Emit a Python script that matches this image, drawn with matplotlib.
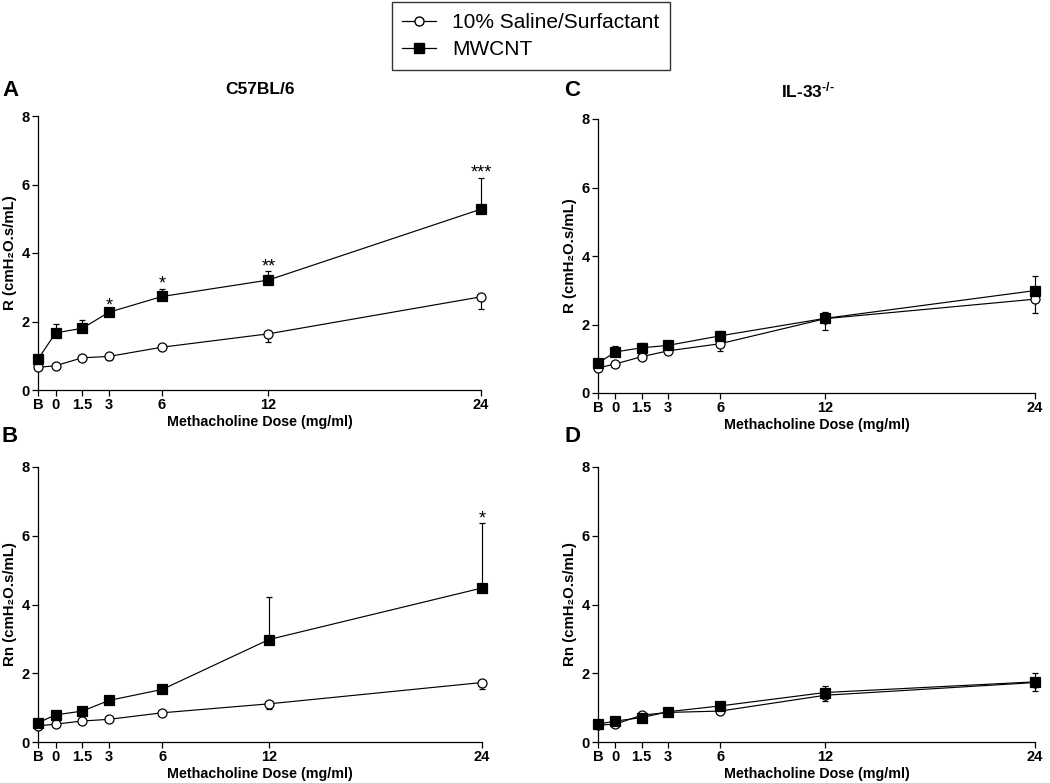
import numpy as np
import matplotlib
matplotlib.use("Agg")
import matplotlib.pyplot as plt
from matplotlib.lines import Line2D

plt.rcParams['font.family'] = ['Liberation Sans', 'DejaVu Sans']
plt.rcParams['mathtext.fontset'] = 'custom'
plt.rcParams['mathtext.bf'] = 'Liberation Sans:bold'
plt.rcParams['mathtext.rm'] = 'Liberation Sans:bold'
plt.rcParams['mathtext.default'] = 'bf'

# dose positions (B = baseline, drawn at -1)
doses = [-1, 0, 1.5, 3, 6, 12, 24]
dose_labels = ["B", "0", "1.5", "3", "6", "12", "24"]

# panel A: C57BL/6, R
a_saline = [0.66, 0.71, 0.94, 0.98, 1.25, 1.64, 2.72]
a_saline_err = [0.0, 0.0, 0.0, 0.10, 0.0, 0.24, 0.36]
a_mwcnt = [0.90, 1.67, 1.80, 2.27, 2.73, 3.21, 5.28]
a_mwcnt_err = [0.0, 0.26, 0.25, 0.05, 0.23, 0.25, 0.92]
a_stars = ["", "", "", "*", "*", "**", "***"]

# panel B: C57BL/6, Rn
b_saline = [0.47, 0.52, 0.61, 0.66, 0.85, 1.11, 1.73]
b_saline_err = [0.0, 0.0, 0.0, 0.0, 0.0, 0.15, 0.18]
b_mwcnt = [0.56, 0.79, 0.90, 1.21, 1.53, 2.98, 4.48]
b_mwcnt_err = [0.0, 0.0, 0.0, 0.0, 0.0, 1.25, 1.88]
b_stars = ["", "", "", "", "", "", "*"]

# panel C: IL-33-/-, R
c_saline = [0.73, 0.85, 1.06, 1.23, 1.44, 2.17, 2.74]
c_saline_err = [0.0, 0.0, 0.0, 0.0, 0.20, 0.32, 0.41]
c_mwcnt = [0.87, 1.20, 1.32, 1.39, 1.67, 2.18, 2.99]
c_mwcnt_err = [0.0, 0.16, 0.14, 0.08, 0.14, 0.19, 0.42]

# panel D: IL-33-/-, Rn
d_saline = [0.49, 0.52, 0.78, 0.86, 0.90, 1.36, 1.73]
d_saline_err = [0.0, 0.0, 0.0, 0.0, 0.09, 0.16, 0.25]
d_mwcnt = [0.52, 0.61, 0.71, 0.88, 1.05, 1.44, 1.75]
d_mwcnt_err = [0.0, 0.0, 0.0, 0.0, 0.0, 0.20, 0.26]

fig = plt.figure(figsize=(10.5, 7.83), dpi=100)

W = 1050.0
H = 783.0


def box(l, r, b, t):
    return [l / W, 1 - b / H, (r - l) / W, (b - t) / H]


def panel(rect, saline, s_err, mwcnt, m_err, ylabel, stars=None):
    ax = fig.add_axes(rect)
    zeros = [0] * len(doses)
    for yv, err, mk, fc, z in [(saline, [s_err, zeros], "o", "white", 3),
                               (mwcnt, [zeros, m_err], "s", "black", 4)]:
        line, caps, bars = ax.errorbar(doses, yv, yerr=err, color="black", lw=0.85,
                                       marker=mk, ms=6.5, mfc=fc, mec="black", mew=0.9,
                                       capsize=2.5, elinewidth=0.85, capthick=0.85,
                                       zorder=z)
        line.set_clip_on(False)
        for art in list(caps) + list(bars):
            art.set_clip_on(False)
    if stars:
        for x, y, e, s in zip(doses, mwcnt, m_err, stars):
            if s:
                ax.text(x, y + e - 0.12, s, ha="center", va="bottom",
                        fontsize=13)
    ax.set_xlim(-1, 24)
    ax.set_ylim(0, 8)
    ax.set_xticks(doses)
    ax.set_xticklabels(dose_labels)
    ax.set_yticks([0, 2, 4, 6, 8])
    for sp_ in ["top", "right"]:
        ax.spines[sp_].set_visible(False)
    for sp_ in ["left", "bottom"]:
        ax.spines[sp_].set_linewidth(0.9)
    ax.tick_params(direction="out", length=4, width=0.9, labelsize=10.5,
                   pad=2)
    for lab in ax.get_xticklabels() + ax.get_yticklabels():
        lab.set_fontweight("bold")
    ax.set_xlabel("Methacholine Dose (mg/ml)", fontsize=10.3,
                  fontweight="bold", labelpad=2)
    ax.set_ylabel(ylabel, fontsize=10.8, fontweight="bold", labelpad=3)
    ax.patch.set_visible(False)
    return ax


ax_a = panel(box(38, 481, 390, 116), a_saline, a_saline_err, a_mwcnt,
             a_mwcnt_err, "R (cmH\u2082O.s/mL)", a_stars)
ax_b = panel(box(38, 482, 742, 467), b_saline, b_saline_err, b_mwcnt,
             b_mwcnt_err, "Rn (cmH\u2082O.s/mL)", b_stars)
ax_c = panel(box(598, 1035, 393, 119), c_saline, c_saline_err, c_mwcnt,
             c_mwcnt_err, "R (cmH\u2082O.s/mL)")
ax_d = panel(box(598, 1035, 742, 467), d_saline, d_saline_err, d_mwcnt,
             d_mwcnt_err, "Rn (cmH\u2082O.s/mL)")

fig.text(260 / W, 1 - 90 / H, "C57BL/6", ha="center", va="center",
         fontsize=12.5, fontweight="bold")
fig.text(808 / W, 1 - 90 / H, r"IL-33$^{\text{-/-}}$", ha="center", va="center",
         fontsize=12.5, fontweight="bold")

for lbl, x, y in [("A", 10, 90), ("B", 10, 437), ("C", 572, 90), ("D", 572, 437)]:
    fig.text(x / W, 1 - y / H, lbl, ha="center", va="center",
             fontsize=16, fontweight="bold")

handles = [
    Line2D([], [], color="black", lw=0.9, marker="o", ms=6.5, mfc="white",
           mec="black"),
    Line2D([], [], color="black", lw=0.9, marker="s", ms=6.5, mfc="black"),
]
leg = fig.legend(handles, ["10% Saline/Surfactant", "MWCNT"],
                 loc="center", bbox_to_anchor=(531 / W, 1 - 36 / H),
                 fontsize=15, frameon=True, fancybox=False,
                 edgecolor="black", handlelength=1.6, borderpad=0.5,
                 labelspacing=0.4)
leg.get_frame().set_linewidth(1.0)

fig.savefig("out.png", dpi=100)
